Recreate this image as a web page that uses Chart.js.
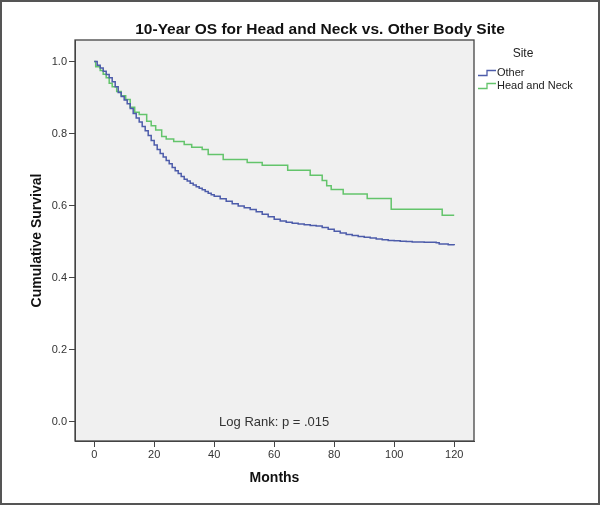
<!DOCTYPE html>
<html>
<head>
<meta charset="utf-8">
<script src="https://cdn.jsdelivr.net/npm/chart.js@4.4.1/dist/chart.umd.min.js"></script>
<style>
    html, body { margin: 0; padding: 0; background: #fff; }
    #wrap { width: 600px; height: 506px; }
</style>
</head>
<body>
<div id="wrap"><canvas id="kmChart" width="600" height="506"></canvas></div>
<script>
// Kaplan-Meier steps (months, cumulative survival)
const otherMonths = [0, 1, 2, 3, 4, 5, 6, 7, 8, 9, 10, 11, 12, 13, 14, 15, 16, 17, 18, 19, 20,
    21, 22, 23, 24, 25, 26, 27, 28, 29, 30, 31, 32, 33, 34, 35, 36, 37, 38, 39, 40,
    42, 44, 46, 48, 50, 52, 54, 56, 58, 60, 62, 64, 66, 68, 70, 72, 74, 76, 78, 80,
    82, 84, 86, 88, 90, 92, 94, 96, 98, 100, 102, 104, 106, 110, 114, 115, 118, 120];
const otherSurvival = [1.0, 0.99, 0.982, 0.973, 0.964, 0.955, 0.944, 0.93, 0.914, 0.903, 0.893,
    0.883, 0.87, 0.856, 0.843, 0.832, 0.82, 0.808, 0.795, 0.781, 0.768,
    0.756, 0.745, 0.735, 0.725, 0.716, 0.706, 0.697, 0.689, 0.681, 0.673,
    0.668, 0.662, 0.657, 0.652, 0.648, 0.644, 0.639, 0.634, 0.63, 0.626,
    0.619, 0.612, 0.605, 0.599, 0.594, 0.589, 0.583, 0.576, 0.569, 0.562,
    0.557, 0.554, 0.551, 0.549, 0.547, 0.545, 0.543, 0.539, 0.534, 0.529,
    0.524, 0.52, 0.517, 0.514, 0.512, 0.51, 0.507, 0.505, 0.503, 0.502,
    0.501, 0.5, 0.499, 0.498, 0.497, 0.493, 0.491, 0.49];

const headNeckMonths = [0, 0.5, 2, 3, 4, 5, 6, 7.5, 9, 10.5, 12, 13.5, 15, 17.5, 19, 20.5, 22.5,
    24, 26.5, 30, 32.5, 36, 38, 43, 51, 56, 64.5, 72, 76, 77.5, 79, 83, 91, 99, 116, 120];
const headNeckSurvival = [1.0, 0.986, 0.975, 0.965, 0.955, 0.94, 0.93, 0.917, 0.905, 0.895,
    0.873, 0.859, 0.853, 0.834, 0.822, 0.81, 0.792, 0.785, 0.778, 0.77, 0.762, 0.756, 0.742,
    0.728, 0.72, 0.712, 0.698, 0.684, 0.67, 0.655, 0.645, 0.632, 0.62, 0.59, 0.573, 0.573];

const seriesNames = ['Other', 'Head and Neck'];
const seriesColors = ['#4d5caa', '#63c46b'];

const xTickValues = [0, 20, 40, 60, 80, 100, 120];
const yTickValues = [0, 0.2, 0.4, 0.6, 0.8, 1.0];

const chartTitle = '10-Year OS for Head and Neck vs. Other Body Site';
const legendTitle = 'Site';
const annotationText = 'Log Rank: p = .015';

const textColor = '#333';
const axisColor = '#444';

function toPoints(xs, ys) {
    return xs.map((x, i) => ({ x: x, y: ys[i] }));
}

// plot background, frame, title, legend and log-rank note
const decorations = {
    id: 'decorations',
    beforeDraw(chart) {
        const { ctx, chartArea: a } = chart;
        ctx.save();
        ctx.fillStyle = '#fff';
        ctx.fillRect(0, 0, chart.width, chart.height);
        ctx.fillStyle = '#f0f0f0';
        ctx.fillRect(a.left, a.top, a.right - a.left, a.bottom - a.top);
        ctx.restore();
    },
    afterDraw(chart) {
        const { ctx, chartArea: a, scales } = chart;
        ctx.save();
        // plot border
        ctx.strokeStyle = axisColor;
        ctx.lineWidth = 1.3;
        ctx.strokeRect(a.left, a.top, a.right - a.left, a.bottom - a.top);

        // outer frame
        ctx.strokeStyle = '#555';
        ctx.lineWidth = 2;
        ctx.strokeRect(1, 1, chart.width - 2, chart.height - 3);

        // title
        ctx.fillStyle = '#111';
        ctx.font = 'bold 15.5px "Liberation Sans", Arial, sans-serif';
        ctx.textAlign = 'center';
        ctx.textBaseline = 'middle';
        ctx.fillText(chartTitle, 320, 29.5);

        // log rank note
        ctx.fillStyle = textColor;
        ctx.font = '13px "Liberation Sans", Arial, sans-serif';
        ctx.fillText(annotationText, scales.x.getPixelForValue(60), scales.y.getPixelForValue(0) + 1);

        // legend
        ctx.font = '12px "Liberation Sans", Arial, sans-serif';
        ctx.fillStyle = '#222';
        ctx.fillText(legendTitle, 523, 54);
        ctx.font = '11px "Liberation Sans", Arial, sans-serif';
        ctx.textAlign = 'left';
        seriesNames.forEach((name, i) => {
            const y = 73 + i * 13;
            ctx.strokeStyle = seriesColors[i];
            ctx.lineWidth = 1.3;
            ctx.beginPath();
            ctx.moveTo(478, y + 2.5);
            ctx.lineTo(487, y + 2.5);
            ctx.lineTo(487, y - 2.5);
            ctx.lineTo(496, y - 2.5);
            ctx.stroke();
            ctx.fillStyle = '#222';
            ctx.fillText(name, 497, y);
        });
        ctx.restore();
    }
};

new Chart(document.getElementById('kmChart'), {
    type: 'line',
    data: {
        datasets: [{
            label: seriesNames[0],
            data: toPoints(otherMonths, otherSurvival),
            borderColor: seriesColors[0],
            borderWidth: 1.5,
            stepped: true,
            pointRadius: 0,
            fill: false
        }, {
            label: seriesNames[1],
            data: toPoints(headNeckMonths, headNeckSurvival),
            borderColor: seriesColors[1],
            borderWidth: 1.5,
            stepped: true,
            pointRadius: 0,
            fill: false
        }]
    },
    options: {
        responsive: false,
        animation: false,
        layout: { padding: { top: 40, right: 126, bottom: 0, left: 0 } },
        plugins: {
            legend: { display: false },
            title: { display: false },
            tooltip: { enabled: false }
        },
        scales: {
            x: {
                type: 'linear',
                min: -6.4,
                max: 126.6,
                afterBuildTicks: scale => { scale.ticks = xTickValues.map(v => ({ value: v })); },
                afterFit: scale => { scale.height = 65; },
                ticks: {
                    color: textColor,
                    font: { size: 11, family: '"Liberation Sans", Arial, sans-serif' },
                    padding: 1,
                    maxRotation: 0
                },
                grid: { drawOnChartArea: false, drawTicks: true, tickLength: 6, color: axisColor },
                border: { display: true, color: axisColor },
                title: {
                    display: true,
                    text: 'Months',
                    color: '#111',
                    font: { size: 14, weight: 'bold', family: '"Liberation Sans", Arial, sans-serif' },
                    padding: { top: 0, bottom: 19.6 }
                }
            },
            y: {
                min: -0.054,
                max: 1.06,
                afterBuildTicks: scale => { scale.ticks = yTickValues.map(v => ({ value: v })); },
                afterFit: scale => { scale.width = 75; },
                ticks: {
                    color: textColor,
                    font: { size: 11, family: '"Liberation Sans", Arial, sans-serif' },
                    padding: 2,
                    callback: v => v.toFixed(1)
                },
                grid: { drawOnChartArea: false, drawTicks: true, tickLength: 6, color: axisColor },
                border: { display: true, color: axisColor },
                title: {
                    display: true,
                    text: 'Cumulative Survival',
                    color: '#111',
                    font: { size: 14, weight: 'bold', family: '"Liberation Sans", Arial, sans-serif' },
                    padding: { top: 28.6, bottom: 0 }
                }
            }
        }
    },
    plugins: [decorations]
});
</script>
</body>
</html>
